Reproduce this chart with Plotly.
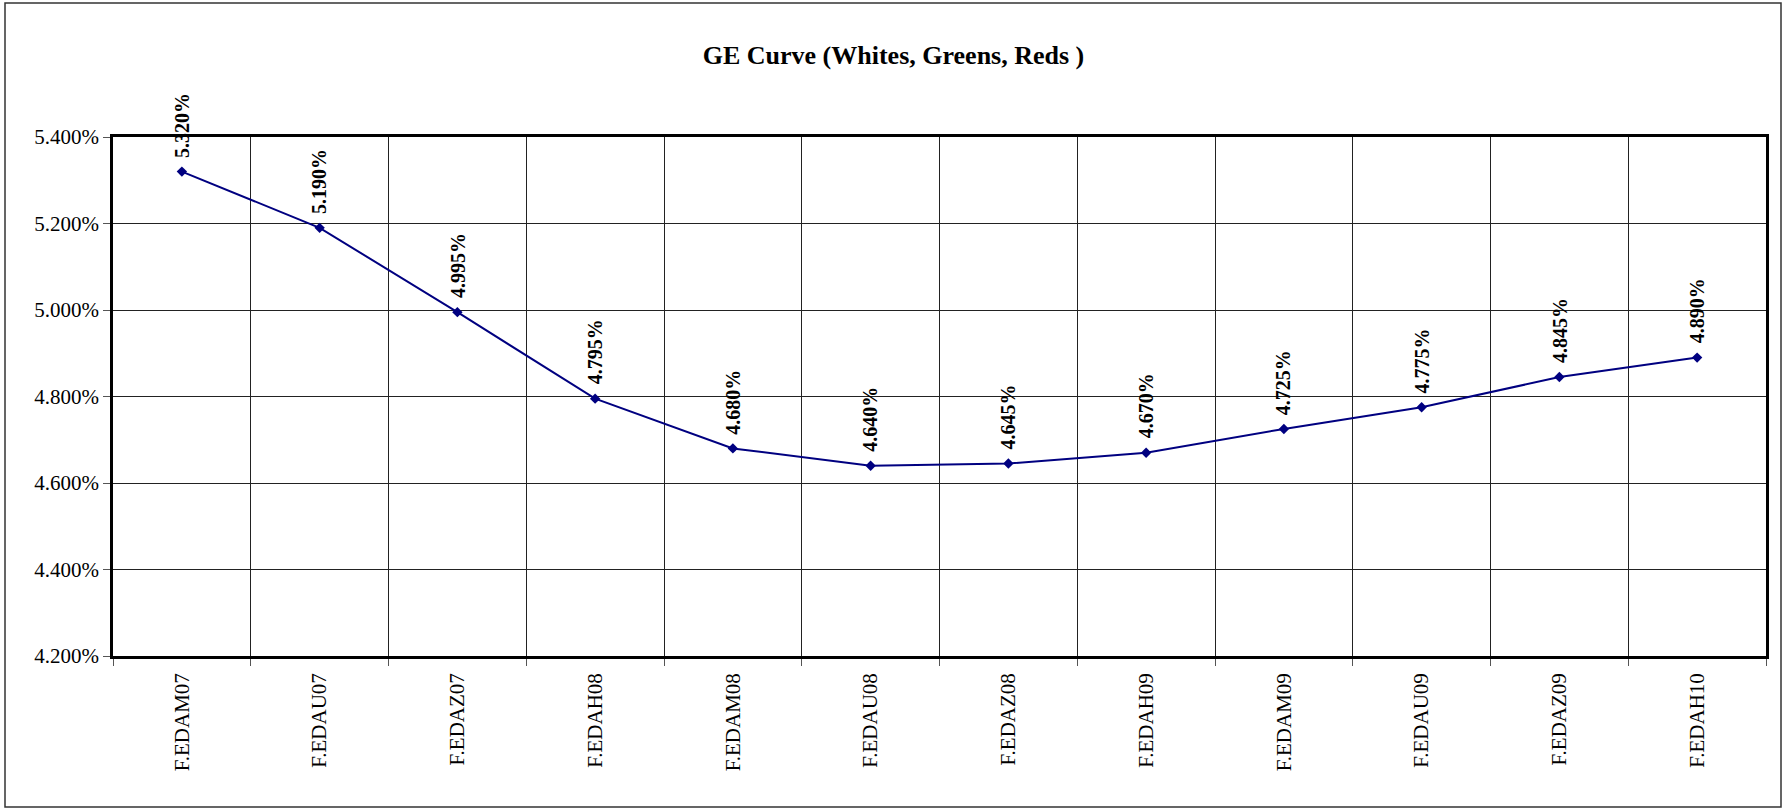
import plotly.graph_objects as go

categories = ["F.EDAM07", "F.EDAU07", "F.EDAZ07", "F.EDAH08", "F.EDAM08", "F.EDAU08",
              "F.EDAZ08", "F.EDAH09", "F.EDAM09", "F.EDAU09", "F.EDAZ09", "F.EDAH10"]
yields = [5.320, 5.190, 4.995, 4.795, 4.680, 4.640, 4.645, 4.670, 4.725, 4.775, 4.845, 4.890]
title_text = "GE Curve (Whites, Greens, Reds )"

W, H = 1787, 808
L, R, T, B = 113, 21, 137, 152
pw, ph = W - L - R, H - T - B

fig = go.Figure()
fig.add_trace(go.Scatter(
    x=categories, y=yields, mode="lines+markers",
    line=dict(color="#000080", width=2),
    marker=dict(symbol="diamond", size=8, color="#000080"),
    showlegend=False, cliponaxis=False,
))

for c, v in zip(categories, yields):
    fig.add_annotation(
        x=c, y=v, text=f"{v:.3f}%", showarrow=False, textangle=-90,
        xanchor="center", yanchor="bottom", yshift=12,
        font=dict(family="Liberation Serif", size=20, color="black", weight="bold"),
    )

# outer chart border
fig.add_shape(type="rect", xref="paper", yref="paper",
              x0=(5 - L) / pw, x1=(1781 - L) / pw,
              y0=(H - B - 807) / ph, y1=(H - B - 3) / ph,
              line=dict(color="#333333", width=1.5), layer="below")

fig.update_layout(
    width=W, height=H,
    margin=dict(l=L, r=R, t=T, b=B),
    paper_bgcolor="white", plot_bgcolor="white",
    title=dict(text=f"<b>{title_text}</b>", x=0.5, xref="container", xanchor="center",
               y=1 - 55 / H, yref="container", yanchor="middle",
               font=dict(family="Liberation Serif", size=26, color="black")),
    font=dict(family="Liberation Serif", color="black"),
)

fig.update_xaxes(
    type="category", tickangle=-90, tickson="boundaries",
    range=[-0.5, len(categories) - 0.5],
    ticks="outside", ticklen=7, tickcolor="#555555", tickwidth=1,
    showgrid=True, gridcolor="#222222", gridwidth=1,
    showline=True, linecolor="black", linewidth=2.5, mirror=True,
    tickfont=dict(family="Liberation Serif", size=21, color="black"),
    ticklabelstandoff=6,
)
fig.update_yaxes(
    range=[4.2, 5.4], dtick=0.2, tick0=4.2, tickformat=".3f", ticksuffix="%",
    ticks="outside", ticklen=7, tickcolor="#555555", tickwidth=1,
    showgrid=True, gridcolor="#222222", gridwidth=1,
    showline=True, linecolor="black", linewidth=2.5, mirror=True,
    tickfont=dict(family="Liberation Serif", size=21, color="black"),
    zeroline=False,
)

fig.write_html("out.html", config={"displayModeBar": False},
               post_script="document.body.style.margin='0';document.body.style.overflow='hidden';")
